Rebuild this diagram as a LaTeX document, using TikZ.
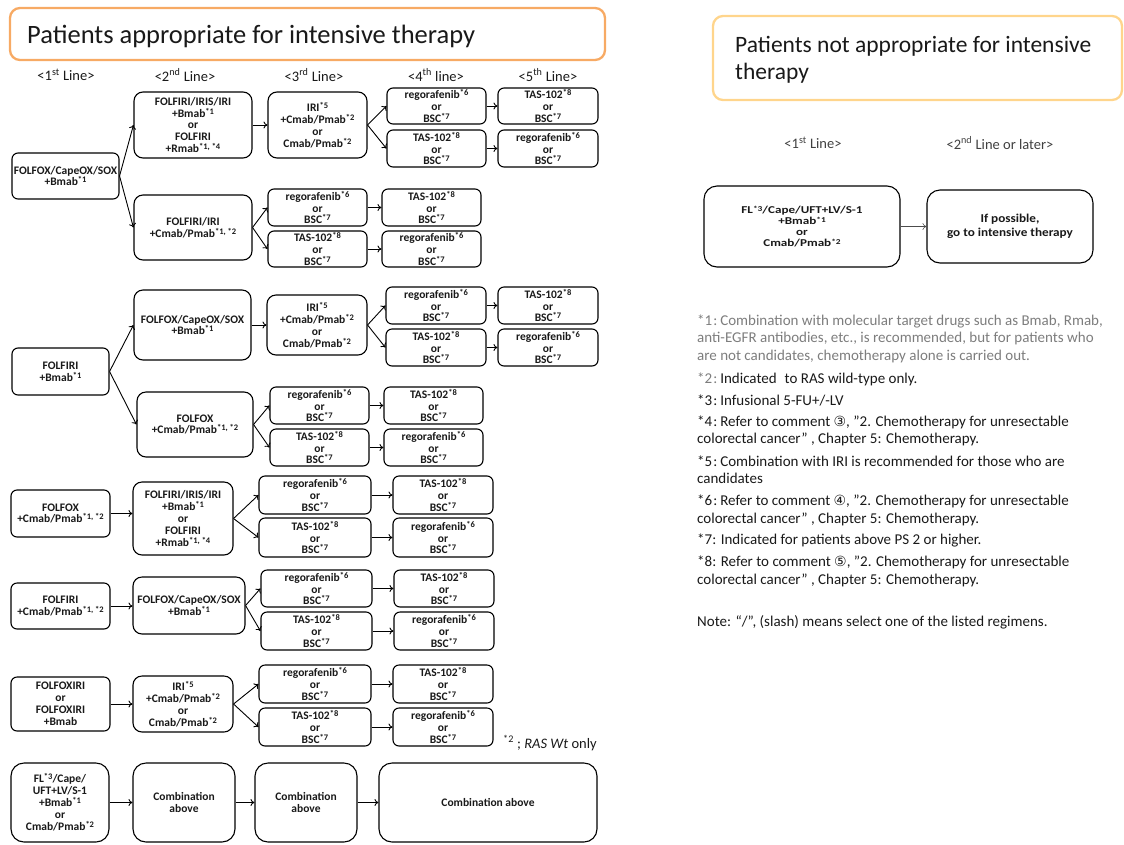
\documentclass[tikz,border=0pt]{standalone}
\usepackage{fontspec}
\setmainfont{Carlito}
\newfontfamily\symf{DejaVu Sans}
\newfontfamily\wideA[FakeStretch=1.25]{Carlito}
\newfontfamily\wideB[FakeStretch=1.1]{Carlito}
\usetikzlibrary{arrows.meta}
\definecolor{orangeA}{RGB}{247,170,100}
\definecolor{orangeB}{RGB}{255,213,140}
\definecolor{noteg}{RGB}{125,125,125}
\definecolor{txt}{RGB}{25,25,25}
\newcommand{\sups}[1]{\raisebox{3pt}{\fontsize{8.5}{9}\selectfont #1}}
\newcommand{\supr}[1]{\raisebox{2.6pt}{\fontsize{7.5}{8}\selectfont #1}}
\newcommand{\mybox}[7][]{\node[bx,minimum width={#5-#3},minimum height={#6-#4},#1] (#2) at ({(#3+#5)/2},{(#4+#6)/2}) {#7};}
\newcommand{\regtxt}{regorafenib\sups{*6}\\or\\BSC\sups{*7}}
\newcommand{\tastxt}{TAS-102\sups{*8}\\or\\BSC\sups{*7}}
\newcommand{\iritxt}{IRI\sups{*5}\\+Cmab/Pmab\sups{*2}\\or\\Cmab/Pmab\sups{*2}}
\newcommand{\firitxt}{FOLFIRI/IRIS/IRI\\+Bmab\sups{*1}\\or\\FOLFIRI\\+Rmab\sups{*1, *4}}
\begin{document}
\begin{tikzpicture}[x=1pt,y=-1pt,
  bx/.style={draw,line width=1.1pt,rounded corners=6pt,inner sep=0pt,align=center,
    font=\bfseries\fontsize{11.5}{11.9}\selectfont,text=txt},
  mid/.style={rounded corners=9pt},
  big/.style={rounded corners=13pt},
  arr/.style={-{To[length=4pt,width=7pt]},line width=0.9pt},
  hdr/.style={font=\fontsize{14.5}{16}\selectfont,text=txt},
  fn/.style={anchor=west,inner sep=0pt,font=\fontsize{15}{17}\selectfont,text=txt},
  ttl/.style={draw,line width=2.3pt,rounded corners=10pt}]
\useasboundingbox (0,0) rectangle (1124,844);
% titles
\draw[ttl,orangeA] (10,8) rectangle (605,60);
\node[anchor=base west,inner sep=0pt,font=\fontsize{26.5}{30}\selectfont,text=txt] (tlt) at (27,43) {Patients appropriate for intensive therapy};
\draw[ttl,orangeB] (713,16) rectangle (1122,100);
\node[anchor=base west,inner sep=0pt,font=\fontsize{23.5}{27}\selectfont,text=txt] (trt) at (735,52) {Patients not appropriate for intensive};
\node[anchor=base west,inner sep=0pt,font=\fontsize{23.5}{27}\selectfont,text=txt] (trt2) at (735,79) {therapy};
% headers
\node[hdr] (h1) at (66,75) {<1\textsuperscript{st} Line>};
\node[hdr] (h2) at (185,75) {<2\textsuperscript{nd} Line>};
\node[hdr] (h3) at (314,75) {<3\textsuperscript{rd} Line>};
\node[hdr] (h4) at (436,75) {<4\textsuperscript{th} line>};
\node[hdr] (h5) at (548,75) {<5\textsuperscript{th} Line>};
% block 1
\mybox{f1}{12}{153}{119}{199}{FOLFOX/CapeOX/SOX\\+Bmab\sups{*1}}
\mybox[mid]{s1a}{134}{92}{252}{158}{\firitxt}
\mybox[mid]{s1b}{134}{195}{252}{260}{FOLFIRI/IRI\\+Cmab/Pmab\sups{*1, *2}}
\mybox[mid]{t1a}{268}{92}{367}{158}{\iritxt}
\mybox{q1a}{387}{88}{486}{124}{\regtxt}
\mybox{q1b}{387}{130}{486}{167}{\tastxt}
\mybox{p1a}{498}{88}{598}{124}{\tastxt}
\mybox{p1b}{498}{130}{598}{167}{\regtxt}
\mybox{t1b}{268}{189}{367}{226}{\regtxt}
\mybox{t1c}{268}{231}{367}{267}{\tastxt}
\mybox{q1c}{382}{189}{481}{226}{\tastxt}
\mybox{q1d}{382}{231}{481}{267}{\regtxt}
\draw[arr] (f1.east) -- (s1a.west);
\draw[arr] (f1.east) -- (s1b.west);
\draw[arr] (s1a.east) -- (t1a.west);
\draw[arr] (t1a.east) -- (q1a.west);
\draw[arr] (t1a.east) -- (q1b.west);
\draw[arr] (q1a.east) -- (p1a.west);
\draw[arr] (q1b.east) -- (p1b.west);
\draw[arr] (s1b.east) -- (t1b.west);
\draw[arr] (s1b.east) -- (t1c.west);
\draw[arr] (t1b.east) -- (q1c.west);
\draw[arr] (t1c.east) -- (q1d.west);
% block 2
\mybox{f2}{12}{348}{109}{395}{FOLFIRI\\+Bmab\sups{*1}}
\mybox[mid]{s2a}{134}{290}{251}{360}{FOLFOX/CapeOX/SOX\\+Bmab\sups{*1}}
\mybox[mid]{s2b}{137}{392}{253}{457}{FOLFOX\\+Cmab/Pmab\sups{*1, *2}}
\mybox[mid]{t2a}{267}{295}{367}{355}{\iritxt}
\mybox{q2a}{386}{287}{486}{324}{\regtxt}
\mybox{q2b}{386}{329}{486}{366}{\tastxt}
\mybox{p2a}{498}{287}{598}{324}{\tastxt}
\mybox{p2b}{498}{329}{598}{366}{\regtxt}
\mybox{t2b}{270}{387}{369}{424}{\regtxt}
\mybox{t2c}{270}{429}{369}{466}{\tastxt}
\mybox{q2c}{384}{387}{483}{424}{\tastxt}
\mybox{q2d}{384}{429}{483}{466}{\regtxt}
\draw[arr] (f2.east) -- (s2a.west);
\draw[arr] (f2.east) -- (s2b.west);
\draw[arr] (s2a.east) -- (t2a.west);
\draw[arr] (t2a.east) -- (q2a.west);
\draw[arr] (t2a.east) -- (q2b.west);
\draw[arr] (q2a.east) -- (p2a.west);
\draw[arr] (q2b.east) -- (p2b.west);
\draw[arr] (s2b.east) -- (t2b.west);
\draw[arr] (s2b.east) -- (t2c.west);
\draw[arr] (t2b.east) -- (q2c.west);
\draw[arr] (t2c.east) -- (q2d.west);
% block 3
\mybox{f3}{11}{490}{110}{537}{FOLFOX\\+Cmab/Pmab\sups{*1, *2}}
\mybox[mid]{s3}{133}{482}{233}{555}{\firitxt}
\mybox{t3a}{259}{476}{371}{514}{\regtxt}
\mybox{t3b}{259}{518}{371}{557}{\tastxt}
\mybox{q3a}{393}{476}{493}{514}{\tastxt}
\mybox{q3b}{393}{518}{493}{557}{\regtxt}
\draw[arr] (f3.east) -- (f3.east -| s3.west);
\draw[arr] (s3.east) -- (t3a.west);
\draw[arr] (s3.east) -- (t3b.west);
\draw[arr] (t3a.east) -- (q3a.west);
\draw[arr] (t3b.east) -- (q3b.west);
% block 4
\mybox{f4}{11}{583}{110}{629}{FOLFIRI\\+Cmab/Pmab\sups{*1, *2}}
\mybox[mid]{s4}{133}{577}{245}{634}{FOLFOX/CapeOX/SOX\\+Bmab\sups{*1}}
\mybox{t4a}{261}{570}{372}{607}{\regtxt}
\mybox{t4b}{261}{612}{372}{650}{\tastxt}
\mybox{q4a}{394}{570}{494}{607}{\tastxt}
\mybox{q4b}{394}{612}{494}{650}{\regtxt}
\draw[arr] (f4.east) -- (f4.east -| s4.west);
\draw[arr] (s4.east) -- (t4a.west);
\draw[arr] (s4.east) -- (t4b.west);
\draw[arr] (t4a.east) -- (q4a.west);
\draw[arr] (t4b.east) -- (q4b.west);
% block 5
\mybox{f5}{11}{677}{110}{731}{FOLFOXIRI\\or\\FOLFOXIRI\\+Bmab}
\mybox[mid]{s5}{133}{676}{233}{732}{\iritxt}
\mybox{t5a}{259}{665}{371}{703}{\regtxt}
\mybox{t5b}{259}{708}{371}{746}{\tastxt}
\mybox{q5a}{393}{665}{493}{703}{\tastxt}
\mybox{q5b}{393}{708}{493}{746}{\regtxt}
\draw[arr] (f5.east) -- (s5.west);
\draw[arr] (s5.east) -- (t5a.west);
\draw[arr] (s5.east) -- (t5b.west);
\draw[arr] (t5a.east) -- (q5a.west);
\draw[arr] (t5b.east) -- (q5b.west);
\node[anchor=west,inner sep=0pt,font=\fontsize{14.5}{16}\selectfont,text=txt] (ras) at (503,743) {\textsuperscript{*2} ; \textit{RAS Wt} only};
% block 6
\mybox[big]{f6}{11}{763}{109}{842}{FL\sups{*3}/Cape/\\UFT+LV/S-1\\+Bmab\sups{*1}\\or\\Cmab/Pmab\sups{*2}}
\mybox[big]{c1}{133}{763}{235}{842}{Combination\\above}
\mybox[big]{c2}{255}{763}{357}{842}{Combination\\above}
\mybox[big]{c3}{379}{763}{597}{842}{Combination above}
\draw[arr] (f6.east) -- (c1.west);
\draw[arr] (c1.east) -- (c2.west);
\draw[arr] (c2.east) -- (c3.west);
% right side
\node[hdr,text=black!75] (rh1) at (813,143) {<1\textsuperscript{st} Line>};
\node[hdr,text=black!75] (rh2) at (1000,143) {<2\textsuperscript{nd} Line or later>};
\mybox[big,font=\wideA\bfseries\fontsize{10.5}{11}\selectfont]{r1}{704}{186}{900}{267}{FL\supr{*3}/Cape/UFT+LV/S-1\\+Bmab\supr{*1}\\or\\Cmab/Pmab\supr{*2}}
\mybox[big,font=\wideB\bfseries\fontsize{12}{14}\selectfont]{r2}{927}{190}{1093}{263}{If possible,\\go to intensive therapy}
\draw[-{To[length=4pt,width=7pt]},line width=0.5pt,black!70] (r1.east) -- (r1.east -| r2.west);
% footnotes
\node[fn,text=noteg] (n1a) at (697,321) {*1\hspace{1pt}:\hspace{3pt}Combination with molecular target drugs such as Bmab, Rmab,};
\node[fn,text=noteg] (n1b) at (697,338) {anti-EGFR antibodies, etc., is recommended, but for patients who};
\node[fn,text=noteg] (n1c) at (697,356) {are not candidates, chemotherapy alone is carried out.};
\node[fn] (n2) at (697,379) {\textcolor{noteg}{*2\hspace{1pt}:}\hspace{3pt}Indicated\hspace{8pt}to RAS wild-type only.};
\node[fn] (n3) at (697,400) {*3\hspace{1pt}:\hspace{3pt}Infusional 5-FU+/-LV};
\node[fn] (n4a) at (697,422) {*4\hspace{1pt}:\hspace{3pt}Refer to comment {\symf\fontsize{14}{16}\selectfont ③}, ”2. Chemotherapy for unresectable};
\node[fn] (n4b) at (697,439) {colorectal cancer” , Chapter 5: Chemotherapy.};
\node[fn] (n5a) at (697,461) {*5\hspace{1pt}:\hspace{3pt}Combination with IRI is recommended for those who are};
\node[fn] (n5b) at (697,478) {candidates};
\node[fn] (n6a) at (697,501) {*6\hspace{1pt}:\hspace{3pt}Refer to comment {\symf\fontsize{14}{16}\selectfont ④}, ”2. Chemotherapy for unresectable};
\node[fn] (n6b) at (697,519) {colorectal cancer” , Chapter 5: Chemotherapy.};
\node[fn] (n7) at (697,540) {*7: Indicated for patients above PS 2 or higher.};
\node[fn] (n8a) at (697,562) {*8: Refer to comment {\symf\fontsize{14}{16}\selectfont ⑤}, ”2. Chemotherapy for unresectable};
\node[fn] (n8b) at (697,580) {colorectal cancer” , Chapter 5: Chemotherapy.};
\node[fn] (nt) at (697,622) {Note: “/”, (slash) means select one of the listed regimens.};
\end{tikzpicture}
\end{document}
